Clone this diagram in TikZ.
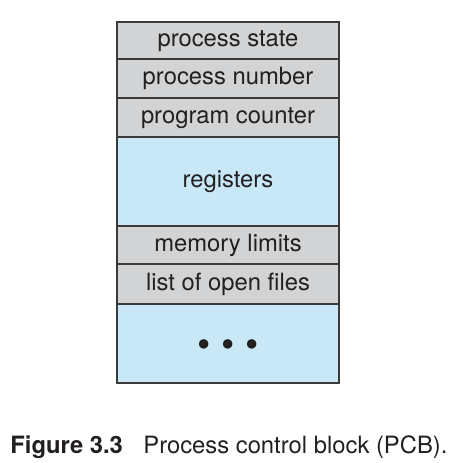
\documentclass[tikz,border=0pt]{standalone}
\usepackage{fontspec}
\setmainfont{TeX Gyre Heros}
\definecolor{pcbgray}{HTML}{D1D3D4}
\definecolor{pcbblue}{HTML}{C8E8F8}
\definecolor{pcbline}{HTML}{3A3A3A}
\definecolor{pcbtext}{HTML}{231F20}
\begin{document}
\begin{tikzpicture}[x=0.5pt, y=-0.5pt, every node/.style={font=\fontsize{11.9}{14}\selectfont, text=pcbtext},
	pcbrow/.style={draw=pcbline, line width=0.75pt, minimum width=111pt, inner sep=0pt, text height=0.8em, text depth=0.2em},
	grayrow/.style={pcbrow, fill=pcbgray},
	bluerow/.style={pcbrow, fill=pcbblue}]
	\useasboundingbox (0,0) rectangle (466,462);
	% 1. 灰色字段 (上半部分)
	\node[grayrow, minimum height=18.5pt] (state) at (228, 40.5) {process state};
	\node[grayrow, minimum height=19.5pt] (number) at (228, 78.5) {process number};
	\node[grayrow, minimum height=19.5pt] (counter) at (228, 117.5) {program counter};
	
	% 2. 寄存器 (蓝色)
	\node[bluerow, minimum height=44.5pt] (registers) at (228, 181.5) {registers};
	
	% 3. 灰色字段 (下半部分)
	\node[grayrow, minimum height=19pt] (limits) at (228, 245) {memory limits};
	\node[grayrow, minimum height=20pt] (files) at (228, 284) {list of open files};
	
	% 4. 省略部分 (蓝色, 圆点用大号字)
	\node[bluerow, minimum height=39.5pt] (more) at (228, 343.5) {};
	\node[inner sep=0pt, font=\fontsize{19}{20}\selectfont] (dots) at (228, 349) {\textbullet\hspace{5.3pt}\textbullet\hspace{5.3pt}\textbullet};
	
	% 5. 图题
	\node[anchor=base west, inner sep=0pt] (figlabel) at (10, 453) {\bfseries Figure 3.3};
	\node[anchor=base west, inner sep=0pt] (figtext) at (143, 453) {Process control block (PCB).};
\end{tikzpicture}
\end{document}
